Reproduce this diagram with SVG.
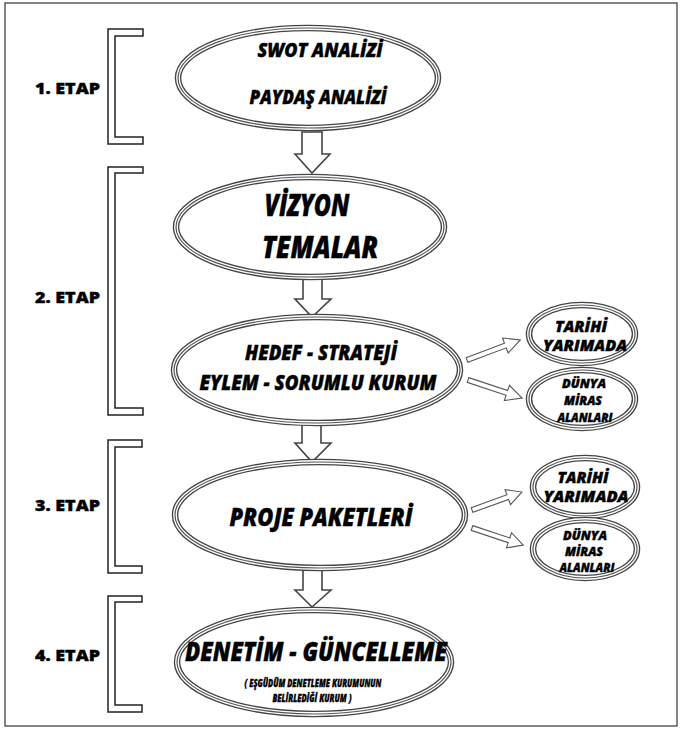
<svg xmlns="http://www.w3.org/2000/svg" width="683" height="729" viewBox="0 0 683 729">
<style>
.bg{fill:#fff}
.frame{fill:none;stroke:#333;stroke-width:1.2}
.e1{fill:#fff;stroke:#444;stroke-width:6.5}
.e2{fill:none;stroke:#fff;stroke-width:3.8}
.e3{fill:none;stroke:#555;stroke-width:1.2}
.br{fill:#fff;stroke:#222;stroke-width:1.5}
.ba{fill:#fff;stroke:#444;stroke-width:1.6;stroke-linejoin:miter}
.ta{fill:#fff;stroke:#555;stroke-width:1.1}
.t{font-family:"Open Sans","Noto Sans","Liberation Sans",sans-serif;font-weight:800;font-style:italic;fill:#000;stroke:#000;stroke-width:0.4;text-anchor:middle}
.lbl{font-family:"Open Sans","Noto Sans","Liberation Sans",sans-serif;font-weight:800;fill:#000;stroke:#000;stroke-width:0.4;font-size:16px}
</style>
<rect class="bg" x="0" y="0" width="683" height="729"/>
<rect class="frame" x="5" y="3" width="672" height="723"/>

<g id="brackets">
<polygon class="br" points="108,29 143,29 143,36 115,36 115,137 143,137 143,144 108,144"/>
<polygon class="br" points="108,167 143,167 143,173 115,173 115,408 143,408 143,415 108,415"/>
<polygon class="br" points="108,440 142,440 142,447 115,447 115,566 142,566 142,573 108,573"/>
<polygon class="br" points="108,596 142,596 142,602 115,602 115,705 142,705 142,712 108,712"/>
</g>

<g id="labels">
<text class="lbl" x="35" y="94" textLength="65" lengthAdjust="spacingAndGlyphs">1. ETAP</text>
<text class="lbl" x="35" y="303" textLength="65" lengthAdjust="spacingAndGlyphs">2. ETAP</text>
<text class="lbl" x="35" y="511" textLength="65" lengthAdjust="spacingAndGlyphs">3. ETAP</text>
<text class="lbl" x="35" y="661" textLength="65" lengthAdjust="spacingAndGlyphs">4. ETAP</text>
</g>

<g id="connectors">
<polygon class="ba" points="302,132 322,132 322,154 330,154 312,173 295,154 302,154"/>
<polygon class="ba" points="303,278 322,278 322,299 331,299 312,317 295,299 303,299"/>
<polygon class="ba" points="302,423 321,423 321,443 331,443 312,462 295,443 302,443"/>
<polygon class="ba" points="303,568 322,568 322,590 331,590 312,607 295,590 303,590"/>
<g transform="translate(467,360) rotate(-20.7)"><polygon class="ta" points="0,-2.5 41,-2.5 41,-8 57,0 41,8 41,2.5 0,2.5"/></g>
<g transform="translate(468,380) rotate(18.4)"><polygon class="ta" points="0,-2.5 41,-2.5 41,-8 57,0 41,8 41,2.5 0,2.5"/></g>
<g transform="translate(472,510) rotate(-19.8)"><polygon class="ta" points="0,-2.5 38,-2.5 38,-8 53,0 38,8 38,2.5 0,2.5"/></g>
<g transform="translate(472,528) rotate(18.4)"><polygon class="ta" points="0,-2.5 39,-2.5 39,-8 54,0 39,8 39,2.5 0,2.5"/></g>
</g>

<g id="swot">
<ellipse class="e1" cx="308" cy="78" rx="130" ry="50"/>
<ellipse class="e2" cx="308" cy="78" rx="130" ry="50"/>
<ellipse class="e3" cx="308" cy="78" rx="130" ry="50"/>
<text class="t" x="320" y="57" font-size="18.5" textLength="125" lengthAdjust="spacingAndGlyphs">SWOT ANALİZİ</text>
<text class="t" x="318" y="104" font-size="18.5" textLength="137" lengthAdjust="spacingAndGlyphs">PAYDAŞ ANALİZİ</text>
</g>

<g id="vizyon">
<ellipse class="e1" cx="310" cy="227" rx="134" ry="50"/>
<ellipse class="e2" cx="310" cy="227" rx="134" ry="50"/>
<ellipse class="e3" cx="310" cy="227" rx="134" ry="50"/>
<text class="t" x="307" y="216" font-size="30" textLength="85" lengthAdjust="spacingAndGlyphs">VİZYON</text>
<text class="t" x="320" y="258" font-size="30" textLength="116" lengthAdjust="spacingAndGlyphs">TEMALAR</text>
</g>

<g id="hedef">
<ellipse class="e1" cx="317" cy="370" rx="143" ry="53"/>
<ellipse class="e2" cx="317" cy="370" rx="143" ry="53"/>
<ellipse class="e3" cx="317" cy="370" rx="143" ry="53"/>
<text class="t" x="321" y="360" font-size="20.5" textLength="152" lengthAdjust="spacingAndGlyphs">HEDEF - STRATEJİ</text>
<text class="t" x="318" y="390" font-size="20.5" textLength="237" lengthAdjust="spacingAndGlyphs">EYLEM - SORUMLU KURUM</text>
</g>

<g id="tarihi1">
<ellipse class="e1" cx="582" cy="334" rx="53" ry="29"/>
<ellipse class="e2" cx="582" cy="334" rx="53" ry="29"/>
<ellipse class="e3" cx="582" cy="334" rx="53" ry="29"/>
<text class="t" x="581" y="332" font-size="15" textLength="52" lengthAdjust="spacingAndGlyphs">TARİHİ</text>
<text class="t" x="585" y="351" font-size="15" textLength="84" lengthAdjust="spacingAndGlyphs">YARIMADA</text>
</g>

<g id="dunya1">
<ellipse class="e1" cx="582" cy="399" rx="53" ry="29"/>
<ellipse class="e2" cx="582" cy="399" rx="53" ry="29"/>
<ellipse class="e3" cx="582" cy="399" rx="53" ry="29"/>
<text class="t" x="584" y="388" font-size="12" textLength="44" lengthAdjust="spacingAndGlyphs">DÜNYA</text>
<text class="t" x="583" y="405" font-size="12" textLength="38" lengthAdjust="spacingAndGlyphs">MİRAS</text>
<text class="t" x="585" y="422" font-size="12" textLength="55" lengthAdjust="spacingAndGlyphs">ALANLARI</text>
</g>

<g id="proje">
<ellipse class="e1" cx="320" cy="515" rx="145" ry="53"/>
<ellipse class="e2" cx="320" cy="515" rx="145" ry="53"/>
<ellipse class="e3" cx="320" cy="515" rx="145" ry="53"/>
<text class="t" x="321" y="526" font-size="25" textLength="183" lengthAdjust="spacingAndGlyphs">PROJE PAKETLERİ</text>
</g>

<g id="tarihi2">
<ellipse class="e1" cx="585" cy="487" rx="52" ry="29"/>
<ellipse class="e2" cx="585" cy="487" rx="52" ry="29"/>
<ellipse class="e3" cx="585" cy="487" rx="52" ry="29"/>
<text class="t" x="583" y="483" font-size="15" textLength="51" lengthAdjust="spacingAndGlyphs">TARİHİ</text>
<text class="t" x="586" y="502" font-size="15" textLength="85" lengthAdjust="spacingAndGlyphs">YARIMADA</text>
</g>

<g id="dunya2">
<ellipse class="e1" cx="585" cy="549" rx="52" ry="29"/>
<ellipse class="e2" cx="585" cy="549" rx="52" ry="29"/>
<ellipse class="e3" cx="585" cy="549" rx="52" ry="29"/>
<text class="t" x="585" y="540" font-size="12" textLength="44" lengthAdjust="spacingAndGlyphs">DÜNYA</text>
<text class="t" x="584" y="556" font-size="12" textLength="38" lengthAdjust="spacingAndGlyphs">MİRAS</text>
<text class="t" x="587" y="572" font-size="12" textLength="55" lengthAdjust="spacingAndGlyphs">ALANLARI</text>
</g>

<g id="denetim">
<ellipse class="e1" cx="314" cy="662" rx="137" ry="52"/>
<ellipse class="e2" cx="314" cy="662" rx="137" ry="52"/>
<ellipse class="e3" cx="314" cy="662" rx="137" ry="52"/>
<text class="t" x="316" y="661" font-size="26" textLength="262" lengthAdjust="spacingAndGlyphs">DENETİM - GÜNCELLEME</text>
<text class="t" x="313" y="687" font-size="11" textLength="137" lengthAdjust="spacingAndGlyphs">( EŞGÜDÜM DENETLEME KURUMUNUN</text>
<text class="t" x="312" y="702" font-size="11" textLength="79" lengthAdjust="spacingAndGlyphs">BELİRLEDİĞİ KURUM )</text>
</g>
</svg>
